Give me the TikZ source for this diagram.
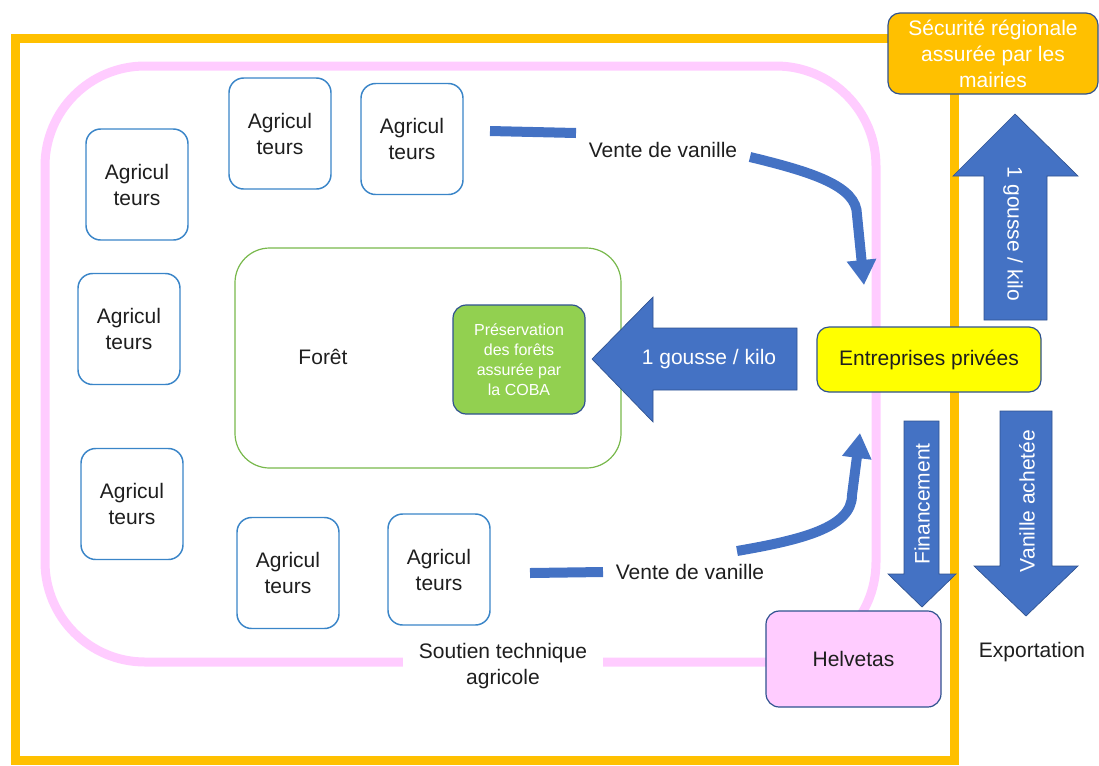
\documentclass[tikz,border=0pt]{standalone}
\usepackage{fontspec}
\setmainfont{Liberation Sans}
\usetikzlibrary{arrows.meta}

\definecolor{flowblue}{HTML}{4472C4}
\definecolor{edgeblue}{HTML}{2F528F}
\definecolor{agriblue}{HTML}{3A85C8}
\definecolor{frameorange}{HTML}{FFC000}
\definecolor{techpink}{HTML}{FFCCFF}
\definecolor{forestgreen}{HTML}{78B84C}
\definecolor{cobagreen}{HTML}{92D050}
\definecolor{bizyellow}{HTML}{FFFF00}
\definecolor{ink}{HTML}{1E1E1E}

\begin{document}
\begin{tikzpicture}[x=0.75pt, y=-0.75pt,
  font=\fontsize{15.75}{19.5}\selectfont, text=ink,
  farmer/.style={draw=agriblue, line width=1.1pt, rounded corners=11pt, fill=white,
    minimum width=76.5pt, minimum height=83.25pt, align=center, inner sep=0pt},
  card/.style={draw=edgeblue, line width=0.9pt, rounded corners=10pt, align=center, inner sep=0pt},
  tag/.style={align=center, inner sep=3pt},
  flow/.style={draw=flowblue, line width=7.5pt, -{Triangle[length=18.75pt,width=21pt]}},
  blockarrow/.style={fill=flowblue, draw=edgeblue, line width=0.5pt, line join=miter},
  arrowtext/.style={text=white, inner sep=0pt}
]
\useasboundingbox (0,0) rectangle (1099,765);

% outer regional frame
\draw[frameorange, line width=6.75pt] (15,38) rectangle (954,760);

% technical support loop
\draw[techpink, line width=6.75pt, rounded corners=75pt] (45,66) rectangle (876,662);

% forest area with the COBA box inside
\node[draw=forestgreen, line width=0.9pt, rounded corners=26pt,
  minimum width=289.5pt, minimum height=165pt, inner sep=0pt] (foret) at (428,358) {};
\node[tag] (foretlbl) at (323,357) {Forêt};
\node[card, fill=cobagreen, text=white, minimum width=99pt, minimum height=81.75pt,
  font=\fontsize{12}{15}\selectfont] (coba) at (519,359.5)
  {Préservation\\des forêts\\assurée par\\la COBA};

% farmers
\node[farmer] (a1) at (137,184.5) {Agricul\\teurs};
\node[farmer] (a2) at (280,133.5) {Agricul\\teurs};
\node[farmer] (a3) at (412,139) {Agricul\\teurs};
\node[farmer] (a4) at (129,329) {Agricul\\teurs};
\node[farmer] (a5) at (132,504) {Agricul\\teurs};
\node[farmer] (a6) at (288,573) {Agricul\\teurs};
\node[farmer] (a7) at (439,569.5) {Agricul\\teurs};

% levy flowing back to the forest
\draw[blockarrow] (592,359) -- (653,297) -- (653,328) -- (797,328) -- (797,390)
  -- (653,390) -- (653,422) -- cycle;
\node[arrowtext] (levyleft) at (709,359) {1 gousse / kilo};

% vanilla sales towards the companies
\coordinate (topstart) at (490,131);
\coordinate (topgap) at (576,133);
\coordinate (topresume) at (750,157);
\coordinate (topend) at (864,285);
\draw[flow] (topstart) -- (topgap)
  (topresume) .. controls (812,172) and (857,186) .. (857,215) -- (topend);
\node[tag] (venteA) at (663,150) {Vente de vanille};

\coordinate (botstart) at (530,573);
\coordinate (botgap) at (603,572);
\coordinate (botresume) at (737,551);
\coordinate (botend) at (860,433);
\draw[flow] (botstart) -- (botgap)
  (botresume) .. controls (800,540) and (852,528) .. (852,495) -- (botend);
\node[tag] (venteB) at (690,572) {Vente de vanille};

% label breaking the support loop
\node[fill=white, align=center, inner xsep=12pt, inner ysep=3pt] (soutien) at (503,666)
  {Soutien technique\\agricole};

% actors
\node[card, fill=techpink, minimum width=131.25pt, minimum height=72pt] (helvetas) at (853.5,659) {Helvetas};
\node[card, fill=bizyellow, rounded corners=9pt, minimum width=168pt, minimum height=48.75pt] (entreprises) at (929,359.5) {Entreprises privées};
\node[card, fill=frameorange, text=white, rounded corners=9pt, minimum width=157.5pt, minimum height=60.75pt] (securite) at (993,53.5)
  {Sécurité régionale\\assurée par les\\mairies};

% levy going up to the municipalities
\draw[blockarrow] (1015,114) -- (1078,176) -- (1047,176) -- (1047,320) -- (984,320)
  -- (984,176) -- (953,176) -- cycle;
\node[arrowtext, rotate=-90] (levyup) at (1013,234) {1 gousse / kilo};

% funding down to Helvetas
\draw[blockarrow] (904,421) -- (939,421) -- (939,574) -- (956,574) -- (922,607)
  -- (888,574) -- (904,574) -- cycle;
\node[arrowtext, rotate=90] (financement) at (922,504) {Financement};

% export of purchased vanilla
\draw[blockarrow] (1000,411) -- (1052,411) -- (1052,566) -- (1078,566) -- (1026,616)
  -- (974,566) -- (1000,566) -- cycle;
\node[arrowtext, rotate=90] (achetee) at (1027,501) {Vanille achetée};
\node[tag] (export) at (1032,652) {Exportation};
\end{tikzpicture}
\end{document}
